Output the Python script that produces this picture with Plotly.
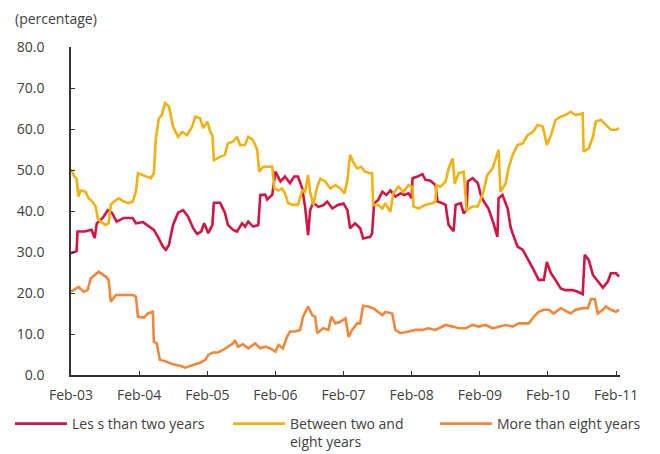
import plotly.graph_objects as go

# ---------------- data ----------------
less_dates = ["2003-02-01","2003-02-17","2003-03-03","2003-03-08","2003-04-15","2003-05-22","2003-06-08","2003-06-19",
    "2003-07-21","2003-08-17","2003-09-08","2003-10-04","2003-11-11","2003-12-29","2004-01-15","2004-02-22",
    "2004-03-24","2004-04-20","2004-05-12","2004-06-08","2004-06-24","2004-07-10","2004-08-01","2004-08-28",
    "2004-09-24","2004-10-21","2004-11-17","2004-12-08","2004-12-30","2005-01-15","2005-02-06","2005-02-28",
    "2005-03-08","2005-04-10","2005-05-06","2005-05-22","2005-06-19","2005-07-10","2005-08-06","2005-08-22",
    "2005-09-08","2005-10-04","2005-11-01","2005-11-12","2005-12-08","2005-12-19","2006-01-15","2006-02-01",
    "2006-02-28","2006-03-24","2006-04-20","2006-05-12","2006-06-02","2006-06-24","2006-07-10","2006-07-26",
    "2006-08-06","2006-08-22","2006-09-19","2006-10-15","2006-11-06","2006-12-03","2006-12-30","2007-02-01",
    "2007-02-22","2007-03-08","2007-04-04","2007-05-01","2007-05-17","2007-06-24","2007-07-04","2007-07-15",
    "2007-08-06","2007-08-28","2007-09-19","2007-10-10","2007-11-06","2007-12-03","2007-12-24","2008-01-15",
    "2008-02-01","2008-02-06","2008-03-03","2008-03-30","2008-04-15","2008-05-12","2008-06-08","2008-06-19",
    "2008-07-15","2008-08-01","2008-08-17","2008-09-13","2008-09-24","2008-10-21","2008-11-06","2008-11-22",
    "2008-11-28","2008-12-24","2009-01-21","2009-02-06","2009-02-22","2009-03-19","2009-04-15","2009-05-06",
    "2009-05-12","2009-06-02","2009-06-30","2009-07-15","2009-07-26","2009-08-22","2009-09-19","2009-10-15",
    "2009-11-12","2009-12-13","2010-01-10","2010-01-26","2010-02-17","2010-03-13","2010-04-10","2010-05-06",
    "2010-06-13","2010-07-10","2010-08-06","2010-08-17","2010-09-08","2010-09-30","2010-10-26","2010-11-22",
    "2010-12-19","2011-01-04","2011-02-01","2011-02-17"]
less_values = [29.7,30.0,30.2,35.0,35.0,35.4,33.4,37.0,
    38.3,40.2,39.6,37.4,38.3,38.3,37.0,37.3,
    36.2,35.4,33.7,31.3,30.5,31.7,36.6,39.6,
    40.2,38.6,35.8,34.4,35.0,37.0,34.6,36.6,
    42.0,42.0,39.6,36.6,35.4,35.0,37.0,36.2,
    37.4,36.2,36.6,43.9,44.0,42.8,44.0,49.6,
    47.2,48.4,46.8,48.4,48.4,45.6,41.0,34.1,
    40.2,42.0,41.0,41.4,42.3,40.6,41.4,41.8,
    40.2,35.8,37.0,35.8,33.3,33.7,34.5,41.9,
    42.7,44.7,43.9,45.0,43.5,44.3,43.9,44.3,
    43.1,48.0,48.4,49.0,47.6,47.4,46.3,42.3,
    41.9,41.5,36.6,35.1,41.5,41.9,39.4,40.2,
    47.2,48.0,46.8,43.9,42.3,40.6,37.0,33.7,
    43.1,43.9,40.6,36.2,34.6,31.3,30.5,28.5,
    26.0,23.2,23.2,27.6,24.8,23.2,21.1,20.7,
    20.7,20.3,19.7,29.3,28.0,24.4,22.8,21.3,
    22.8,24.8,24.8,24.0]

between_dates = ["2003-02-01","2003-02-17","2003-03-03","2003-03-13","2003-03-24","2003-04-20","2003-05-06","2003-05-27",
    "2003-06-13","2003-06-24","2003-07-10","2003-08-06","2003-08-22","2003-09-02","2003-09-19","2003-10-15",
    "2003-11-11","2003-12-08","2003-12-29","2004-01-15","2004-01-26","2004-02-22","2004-03-19","2004-04-04",
    "2004-04-20","2004-05-01","2004-05-17","2004-06-02","2004-06-19","2004-07-10","2004-08-01","2004-08-28",
    "2004-09-19","2004-10-15","2004-11-12","2004-11-28","2004-12-24","2005-01-10","2005-02-01","2005-02-17",
    "2005-02-28","2005-03-08","2005-04-10","2005-05-06","2005-05-22","2005-06-19","2005-07-10","2005-07-26",
    "2005-08-22","2005-09-08","2005-10-04","2005-10-26","2005-11-06","2005-11-27","2006-01-15","2006-01-26",
    "2006-02-17","2006-03-08","2006-03-24","2006-04-10","2006-05-06","2006-06-02","2006-06-24","2006-07-10",
    "2006-07-26","2006-08-06","2006-08-22","2006-09-13","2006-09-30","2006-10-26","2006-11-22","2006-12-19",
    "2007-01-15","2007-02-06","2007-02-22","2007-03-08","2007-03-24","2007-04-15","2007-05-06","2007-05-27",
    "2007-06-24","2007-07-04","2007-07-10","2007-08-06","2007-08-28","2007-09-13","2007-10-10","2007-10-26",
    "2007-11-22","2007-12-19","2008-01-15","2008-02-06","2008-02-11","2008-03-08","2008-04-15","2008-05-22",
    "2008-06-08","2008-06-13","2008-07-04","2008-08-01","2008-08-17","2008-09-08","2008-09-19","2008-10-10",
    "2008-11-06","2008-11-22","2008-12-24","2009-01-21","2009-02-17","2009-03-13","2009-04-10","2009-04-26",
    "2009-05-12","2009-05-22","2009-06-19","2009-07-04","2009-07-26","2009-08-22","2009-09-19","2009-10-15",
    "2009-11-12","2009-12-08","2010-01-04","2010-01-26","2010-02-17","2010-03-13","2010-04-10","2010-05-06",
    "2010-06-02","2010-06-29","2010-08-06","2010-08-11","2010-09-08","2010-09-30","2010-10-15","2010-11-12",
    "2010-12-08","2011-01-04","2011-02-01","2011-02-17"]
between_values = [50.2,48.6,47.8,43.5,45.0,44.7,43.1,42.3,
    41.1,38.3,37.4,36.6,37.0,41.5,42.3,43.1,
    42.3,41.9,42.3,44.7,49.2,48.8,48.4,48.0,
    49.2,57.7,62.6,63.4,66.3,65.5,60.6,58.1,
    59.3,58.5,60.6,63.0,62.6,60.2,61.8,59.3,
    58.5,52.4,53.2,53.7,56.5,56.9,58.1,56.1,
    56.1,58.1,57.3,54.9,49.6,50.8,50.8,45.5,
    45.0,45.5,44.3,41.9,41.5,41.5,45.0,44.7,
    48.8,44.7,41.5,45.9,47.9,47.2,45.5,46.3,
    45.5,44.3,47.6,53.7,52.0,50.4,50.8,49.6,
    49.2,49.2,41.5,41.5,40.6,41.9,39.8,44.3,
    45.9,44.7,46.3,45.9,41.1,40.6,41.5,41.9,
    42.3,46.3,45.9,47.2,50.4,52.8,46.7,49.2,
    49.6,40.2,41.1,41.1,44.3,48.8,50.4,52.4,
    54.9,44.7,46.7,50.4,53.6,56.1,56.5,58.5,
    59.3,61.0,60.6,56.1,58.5,62.2,63.0,63.4,
    64.2,63.4,63.8,54.5,55.3,58.1,61.8,62.2,
    61.0,59.8,59.8,60.2]

more_dates = ["2003-02-01","2003-03-13","2003-04-10","2003-05-01","2003-05-17","2003-06-29","2003-08-06","2003-08-22",
    "2003-09-02","2003-09-30","2003-11-11","2003-12-29","2004-01-15","2004-01-26","2004-02-28","2004-03-19",
    "2004-04-15","2004-04-20","2004-05-06","2004-05-22","2004-06-24","2004-08-01","2004-09-13","2004-10-04",
    "2004-11-12","2004-12-24","2005-01-21","2005-02-06","2005-03-03","2005-03-30","2005-04-26","2005-05-22",
    "2005-06-19","2005-06-29","2005-07-15","2005-08-11","2005-09-08","2005-10-15","2005-11-12","2005-12-08",
    "2006-01-04","2006-02-01","2006-02-17","2006-03-13","2006-04-04","2006-04-20","2006-05-17","2006-06-13",
    "2006-06-29","2006-07-26","2006-08-17","2006-09-02","2006-09-13","2006-10-15","2006-11-12","2006-11-28",
    "2006-12-19","2007-01-15","2007-02-12","2007-02-28","2007-03-19","2007-04-15","2007-05-01","2007-05-17",
    "2007-06-13","2007-07-10","2007-08-06","2007-08-28","2007-09-13","2007-10-20","2007-11-06","2007-12-03",
    "2008-01-15","2008-02-22","2008-03-30","2008-05-01","2008-06-08","2008-08-01","2008-09-08","2008-10-10",
    "2008-11-17","2008-12-24","2009-01-26","2009-03-03","2009-04-10","2009-05-12","2009-06-19","2009-07-26",
    "2009-08-28","2009-10-21","2009-11-17","2009-12-13","2010-01-10","2010-02-06","2010-03-03","2010-04-10",
    "2010-05-06","2010-06-02","2010-06-29","2010-08-06","2010-09-03","2010-09-19","2010-10-10","2010-10-26",
    "2010-11-22","2010-12-08","2011-01-04","2011-02-01","2011-02-17"]
more_values = [20.3,21.5,20.3,20.7,23.5,25.2,24.0,23.2,
    17.9,19.5,19.5,19.5,19.1,14.2,14.0,15.0,
    15.4,8.1,7.7,3.7,3.3,2.6,2.2,1.8,
    2.4,3.0,3.7,4.9,5.5,5.5,6.1,6.9,
    7.7,8.5,6.9,7.5,6.5,7.7,6.5,6.9,
    6.5,5.7,7.3,6.5,9.3,10.6,10.6,11.0,
    14.2,16.7,14.6,14.2,10.2,11.4,11.0,14.2,
    12.6,13.0,13.8,9.3,11.0,12.6,12.6,16.9,
    16.7,16.3,15.4,14.6,15.4,15.0,11.0,10.2,
    10.6,11.0,11.0,11.4,11.0,12.2,11.8,11.4,
    11.4,12.2,11.8,12.2,11.4,11.8,12.2,11.8,
    12.6,12.6,14.2,15.4,15.9,15.9,15.0,16.3,
    15.6,15.0,15.9,16.3,16.3,18.5,18.5,15.0,
    15.9,16.7,15.9,15.4,16.0]

series_names = ["Les s than two years", "Between two and<br>eight years", "More than eight years"]
series_colors = ["#d21444", "#f0b212", "#f0873a"]

tick_dates = ["2003-02-01","2004-02-01","2005-02-01","2006-02-01","2007-02-01",
              "2008-02-01","2009-02-01","2010-02-01","2011-02-01"]
tick_labels = ["Feb-03","Feb-04","Feb-05","Feb-06","Feb-07","Feb-08","Feb-09","Feb-10","Feb-11"]
y_ticks = [0, 10, 20, 30, 40, 50, 60, 70, 80]

FONT = "Open Sans"
TXT = "#404040"
AX = "#333333"

# the page body adds an 8px offset, so the figure is 8px smaller than the window
W, H = 652, 446

legend_ids = ["legend", "legend2", "legend3"]
legend_left = [2, 220, 427]   # pixel offsets of the three legend boxes

fig = go.Figure()
for name, xs, ys, col, lg in zip(series_names,
                                 [less_dates, between_dates, more_dates],
                                 [less_values, between_values, more_values],
                                 series_colors, legend_ids):
    fig.add_trace(go.Scatter(x=xs, y=ys, mode="lines", name=name, legend=lg,
                             line=dict(color=col, width=2.6)))

legend_style = dict(orientation="v", xref="container", yref="container",
                    xanchor="left", yanchor="top", y=1 - 400/H,
                    itemwidth=52, valign="top",
                    font=dict(family=FONT, size=14, color=TXT),
                    bgcolor="rgba(0,0,0,0)", itemclick=False)

fig.update_layout(
    width=W, height=H,
    margin=dict(l=63, r=40, t=39, b=79, autoexpand=False),
    paper_bgcolor="white", plot_bgcolor="white",
    font=dict(family=FONT, size=14, color=TXT),
    showlegend=True,
    legend=dict(legend_style, x=legend_left[0]/W),
    legend2=dict(legend_style, x=legend_left[1]/W),
    legend3=dict(legend_style, x=legend_left[2]/W),
    annotations=[dict(text="(percentage)", xref="paper", yref="paper",
                      x=(13-71)/549, y=(375-18)/328, xanchor="left", yanchor="middle",
                      showarrow=False, font=dict(family=FONT, size=14, color=TXT))],
)

fig.update_xaxes(
    type="date", range=["2003-02-01", "2011-02-22"],
    tickvals=tick_dates, ticktext=tick_labels,
    showgrid=False, zeroline=False,
    showline=True, linecolor=AX, linewidth=1.5,
    ticks="inside", ticklen=4, tickcolor=AX, tickwidth=1.2,
    ticklabelstandoff=6,
    tickfont=dict(family=FONT, size=14, color=TXT),
)
fig.update_yaxes(
    range=[0, 80], tickvals=y_ticks, tickformat=".1f",
    showgrid=False, zeroline=False,
    showline=True, linecolor=AX, linewidth=1.5,
    ticks="inside", ticklen=4, tickcolor=AX, tickwidth=1.2,
    ticklabelstandoff=22,
    tickfont=dict(family=FONT, size=14, color=TXT),
)

fig.write_html("out.html")
